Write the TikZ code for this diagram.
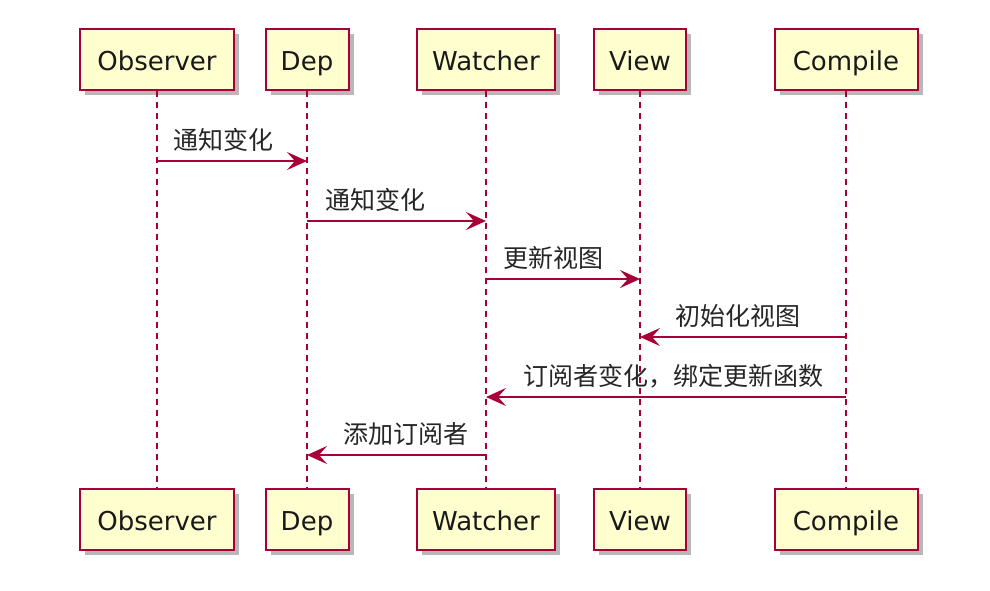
\documentclass[tikz,border=0pt]{standalone}
\usepackage{fontspec}
\setmainfont{DejaVu Sans}
\newfontfamily\cjk{Noto Sans CJK SC}
\usetikzlibrary{arrows.meta,shadows}
\definecolor{pumlred}{HTML}{A80036}
\definecolor{pumlfill}{HTML}{FEFECE}
\tikzset{
  actorbox/.style={draw=pumlred, fill=pumlfill, line width=2pt, minimum height=61pt,
    inner sep=0pt, text height=24pt, text depth=2pt, font=\fontsize{26}{30}\selectfont, text=black!90,
    drop shadow={shadow xshift=5pt, shadow yshift=-5pt, fill=black, opacity=0.28}},
  life/.style={draw=pumlred, line width=1.5pt, dash pattern=on 6pt off 5pt},
  msg/.style={draw=pumlred, line width=2pt, -{Stealth[length=20pt,width=18pt,inset=8pt]}},
  lbl/.style={inner sep=0pt, anchor=base west, font=\cjk\fontsize{25}{28}\selectfont, text=black!85}
}
\begin{document}
\begin{tikzpicture}[x=1pt,y=-1pt]
\useasboundingbox[fill=white] (0,0) rectangle (990,590);
% top boxes
\node[actorbox, minimum width=154pt] (obsT) at (157,59) {Observer};
\node[actorbox, minimum width=83pt] (depT) at (307,59) {Dep};
\node[actorbox, minimum width=138pt] (watT) at (486,59) {Watcher};
\node[actorbox, minimum width=92pt] (viewT) at (640,59) {View};
\node[actorbox, minimum width=143pt] (compT) at (846,59) {Compile};
% bottom boxes
\node[actorbox, minimum width=154pt] (obsB) at (157,519) {Observer};
\node[actorbox, minimum width=83pt] (depB) at (307,519) {Dep};
\node[actorbox, minimum width=138pt] (watB) at (486,519) {Watcher};
\node[actorbox, minimum width=92pt] (viewB) at (640,519) {View};
\node[actorbox, minimum width=143pt] (compB) at (846,519) {Compile};
% lifelines
\draw[life] (obsT.south) -- (obsB.north);
\draw[life] (depT.south) -- (depB.north);
\draw[life] (watT.south) -- (watB.north);
\draw[life] (viewT.south) -- (viewB.north);
\draw[life] (compT.south) -- (compB.north);
% messages
\draw[msg] (obsT.south |- 0,161) -- (depT.south |- 0,161);
\node[lbl] (l1) at (173,149) {通知变化};
\draw[msg] (depT.south |- 0,221) -- (watT.south |- 0,221);
\node[lbl] (l2) at (325,209) {通知变化};
\draw[msg] (watT.south |- 0,279) -- (viewT.south |- 0,279);
\node[lbl] (l3) at (503,267) {更新视图};
\draw[msg] (compT.south |- 0,337) -- (viewT.south |- 0,337);
\node[lbl] (l4) at (675,325) {初始化视图};
\draw[msg] (compT.south |- 0,397) -- (watT.south |- 0,397);
\node[lbl] (l5) at (523,385) {订阅者变化，绑定更新函数};
\draw[msg] (watT.south |- 0,455) -- (depT.south |- 0,455);
\node[lbl] (l6) at (343,443) {添加订阅者};
\end{tikzpicture}
\end{document}
